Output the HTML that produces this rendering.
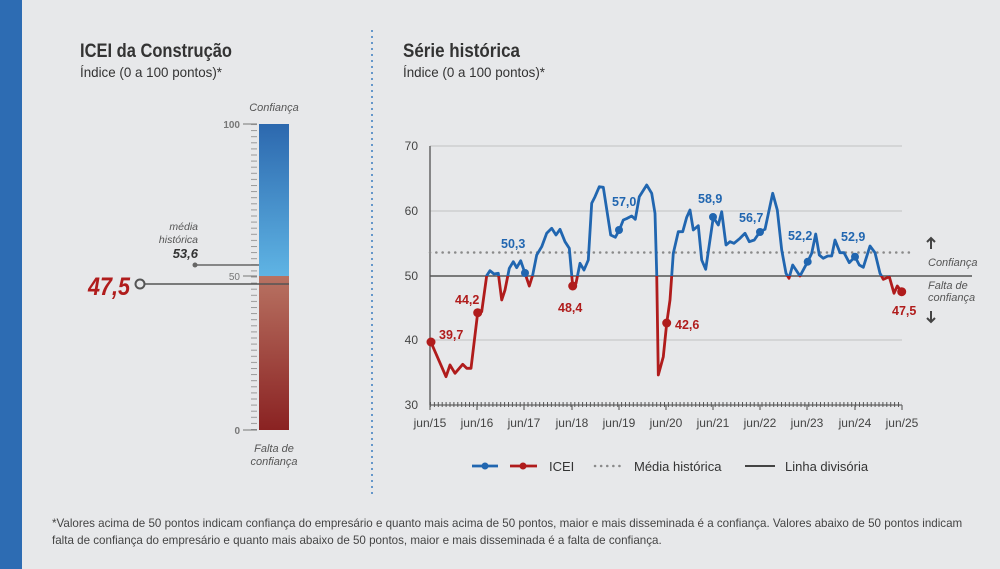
<!DOCTYPE html>
<html><head><meta charset="utf-8"><style>
body{margin:0;width:1000px;height:569px;background:#e7e8ea;font-family:"Liberation Sans",sans-serif;overflow:hidden;position:relative}
</style></head><body>
<svg width="1000" height="569" style="position:absolute;left:0;top:0" font-family="Liberation Sans, sans-serif">
<defs>
<linearGradient id="gb" x1="0" y1="0" x2="0" y2="1"><stop offset="0" stop-color="#2c68ae"/><stop offset="1" stop-color="#5fb4e4"/></linearGradient>
<linearGradient id="gr" x1="0" y1="0" x2="0" y2="1"><stop offset="0" stop-color="#b87262"/><stop offset="1" stop-color="#8a2222"/></linearGradient>
<clipPath id="ca"><rect x="0" y="0" width="1000" height="276"/></clipPath>
<clipPath id="cb"><rect x="0" y="276" width="1000" height="300"/></clipPath>
<pattern id="tk" width="3.9" height="6" patternUnits="userSpaceOnUse" x="430"><rect width="1" height="6" fill="#555"/></pattern>
<pattern id="gt" width="6" height="6.1" patternUnits="userSpaceOnUse" y="124"><rect width="6" height="1" fill="#999"/></pattern>
</defs>
<rect x="0" y="0" width="22" height="569" fill="#2d6cb3"/>
<line x1="372" y1="30" x2="372" y2="495" stroke="#3a7cc0" stroke-width="1.5" stroke-dasharray="2,4"/>
<text x="80" y="57" font-size="19" font-weight="bold" fill="#333" textLength="152" lengthAdjust="spacingAndGlyphs">ICEI da Construção</text>
<text x="80" y="77" font-size="14" fill="#333" textLength="142" lengthAdjust="spacingAndGlyphs">Índice (0 a 100 pontos)*</text>
<text x="403" y="57" font-size="19" font-weight="bold" fill="#333" textLength="117" lengthAdjust="spacingAndGlyphs">Série histórica</text>
<text x="403" y="77" font-size="14" fill="#333" textLength="142" lengthAdjust="spacingAndGlyphs">Índice (0 a 100 pontos)*</text>
<!-- gauge -->
<text x="274" y="111" font-size="11" font-style="italic" fill="#555" text-anchor="middle">Confiança</text>
<rect x="251" y="124" width="6" height="306" fill="url(#gt)"/>
<line x1="243" y1="124" x2="257" y2="124" stroke="#777"/><line x1="243" y1="276" x2="257" y2="276" stroke="#777"/><line x1="243" y1="430" x2="257" y2="430" stroke="#777"/>
<text x="240" y="128" font-size="10" fill="#777" text-anchor="end" font-weight="bold">100</text>
<text x="240" y="280" font-size="10" fill="#777" text-anchor="end">50</text>
<text x="240" y="434" font-size="10" fill="#777" text-anchor="end" font-weight="bold">0</text>
<rect x="259" y="124" width="30" height="152" fill="url(#gb)"/>
<rect x="259" y="276" width="30" height="154" fill="url(#gr)"/>
<text x="198" y="230" font-size="10.5" font-style="italic" fill="#555" text-anchor="end">média</text>
<text x="198" y="243" font-size="10.5" font-style="italic" fill="#555" text-anchor="end">histórica</text>
<text x="198" y="258" font-size="13" font-style="italic" font-weight="bold" fill="#333" text-anchor="end">53,6</text>
<line x1="195" y1="265" x2="259" y2="265" stroke="#666" stroke-width="1.5"/><circle cx="195" cy="265" r="2.5" fill="#666"/>
<line x1="144" y1="284" x2="289" y2="284" stroke="#555" stroke-width="1.5"/>
<circle cx="140" cy="284" r="4.5" fill="#e7e8ea" stroke="#555" stroke-width="2"/>
<text x="130" y="295" font-size="25" font-style="italic" font-weight="bold" fill="#b01c1c" text-anchor="end" textLength="42" lengthAdjust="spacingAndGlyphs">47,5</text>
<text x="274" y="452" font-size="11" font-style="italic" fill="#555" text-anchor="middle">Falta de</text>
<text x="274" y="465" font-size="11" font-style="italic" fill="#555" text-anchor="middle">confiança</text>
<!-- chart -->
<g stroke="#c9c9cb" stroke-width="1.2"><line x1="430" y1="146" x2="902" y2="146"/><line x1="430" y1="211" x2="902" y2="211"/><line x1="430" y1="340" x2="902" y2="340"/></g>
<line x1="430" y1="146" x2="430" y2="405" stroke="#666" stroke-width="1.5"/>
<line x1="430" y1="405" x2="902" y2="405" stroke="#666" stroke-width="1.2"/>
<rect x="430" y="402" width="472" height="5" fill="url(#tk)"/>
<g stroke="#666" stroke-width="1.2"><line x1="430" y1="405" x2="430" y2="410"/><line x1="477" y1="405" x2="477" y2="410"/><line x1="524" y1="405" x2="524" y2="410"/><line x1="572" y1="405" x2="572" y2="410"/><line x1="619" y1="405" x2="619" y2="410"/><line x1="666" y1="405" x2="666" y2="410"/><line x1="713" y1="405" x2="713" y2="410"/><line x1="760" y1="405" x2="760" y2="410"/><line x1="807" y1="405" x2="807" y2="410"/><line x1="855" y1="405" x2="855" y2="410"/><line x1="902" y1="405" x2="902" y2="410"/></g>
<g font-size="12" fill="#444" text-anchor="end"><text x="418" y="150">70</text><text x="418" y="215">60</text><text x="418" y="280">50</text><text x="418" y="344">40</text><text x="418" y="409">30</text></g>
<g font-size="12" fill="#444" text-anchor="middle"><text x="430" y="427">jun/15</text><text x="477" y="427">jun/16</text><text x="524" y="427">jun/17</text><text x="572" y="427">jun/18</text><text x="619" y="427">jun/19</text><text x="666" y="427">jun/20</text><text x="713" y="427">jun/21</text><text x="760" y="427">jun/22</text><text x="807" y="427">jun/23</text><text x="855" y="427">jun/24</text><text x="902" y="427">jun/25</text></g>
<line x1="430" y1="252.5" x2="910" y2="252.5" stroke="#8a8a8a" stroke-width="2.5" stroke-dasharray="0.1,6.2" stroke-linecap="round"/>
<line x1="430" y1="276" x2="972" y2="276" stroke="#555" stroke-width="1.5"/>
<polyline clip-path="url(#ca)" fill="none" stroke-width="2.8" stroke-linejoin="round" stroke="#2166b0" points="431,342.3 446,376.7 450,365 455,373.3 462.7,364.3 466.7,368.3 471,368.3 477.7,312.7 481.7,311.7 486.7,275.7 490,270.7 494,274 498.3,273.3 501.7,300 505,290 509.3,268.3 513.3,261.7 516.7,267.7 520.7,260.7 525,273.3 529.3,286 532.7,275 536.7,255 541.7,246.7 546.7,233.3 551.7,228.3 556,235 560,229.3 565,241.7 569.3,248.3 572.7,286 576,283.3 580,263.3 584,270 588.3,260 591.7,203.3 595,196.7 599.3,186.7 603.3,187.3 610.7,235 615.3,237.3 619.3,230 623.3,220 627.3,218.3 631.7,216 635.3,219.3 639.3,196.7 646.7,185 651.7,193.3 655,213.3 656.7,273.3 658.3,375 663.3,356.7 666.7,323.3 670,300 673.3,253.3 678.3,231.7 682.7,231.7 686.7,217.3 690,210 693.3,230 698.3,225.7 701.7,260 705.7,269.3 713.3,217.3 718.3,225 721.7,211.7 726,245 730,241.7 734,243.3 740,238.3 745,233.3 749.3,241.7 754.3,240 760,231.7 765,229.3 772.7,193.3 777.3,210 781.7,250 786,273.3 789,278.3 792.7,265 800,276 807.7,261.7 811.7,253.3 815.7,234 819.3,255 823.3,258.3 827.7,256 831.7,256 835,240 840,252.7 844,252.7 849.3,262.7 855,256.7 859.3,265 863.3,267.3 870,246 875,252.7 880,273.3 883.3,279.3 889.3,276.7 894,293.3 897.3,286 901.7,291.7"/>
<polyline clip-path="url(#cb)" fill="none" stroke="#b01c1c" stroke-width="2.8" stroke-linejoin="round" points="431,342.3 446,376.7 450,365 455,373.3 462.7,364.3 466.7,368.3 471,368.3 477.7,312.7 481.7,311.7 486.7,275.7 490,270.7 494,274 498.3,273.3 501.7,300 505,290 509.3,268.3 513.3,261.7 516.7,267.7 520.7,260.7 525,273.3 529.3,286 532.7,275 536.7,255 541.7,246.7 546.7,233.3 551.7,228.3 556,235 560,229.3 565,241.7 569.3,248.3 572.7,286 576,283.3 580,263.3 584,270 588.3,260 591.7,203.3 595,196.7 599.3,186.7 603.3,187.3 610.7,235 615.3,237.3 619.3,230 623.3,220 627.3,218.3 631.7,216 635.3,219.3 639.3,196.7 646.7,185 651.7,193.3 655,213.3 656.7,273.3 658.3,375 663.3,356.7 666.7,323.3 670,300 673.3,253.3 678.3,231.7 682.7,231.7 686.7,217.3 690,210 693.3,230 698.3,225.7 701.7,260 705.7,269.3 713.3,217.3 718.3,225 721.7,211.7 726,245 730,241.7 734,243.3 740,238.3 745,233.3 749.3,241.7 754.3,240 760,231.7 765,229.3 772.7,193.3 777.3,210 781.7,250 786,273.3 789,278.3 792.7,265 800,276 807.7,261.7 811.7,253.3 815.7,234 819.3,255 823.3,258.3 827.7,256 831.7,256 835,240 840,252.7 844,252.7 849.3,262.7 855,256.7 859.3,265 863.3,267.3 870,246 875,252.7 880,273.3 883.3,279.3 889.3,276.7 894,293.3 897.3,286 901.7,291.7"/>
<g fill="#2166b0"><circle cx="525" cy="273" r="4"/><circle cx="619" cy="230" r="4"/><circle cx="713" cy="217" r="4"/><circle cx="760" cy="232" r="4"/><circle cx="807.7" cy="261.7" r="4"/><circle cx="855" cy="256.7" r="4"/></g>
<g fill="#b01c1c"><circle cx="431" cy="342" r="4.5"/><circle cx="477.7" cy="312.7" r="4.5"/><circle cx="572.7" cy="286" r="4.5"/><circle cx="666.7" cy="323" r="4.5"/><circle cx="901.7" cy="291.7" r="4.5"/></g>
<g font-size="12.5" font-weight="bold" fill="#2166b0"><text x="501" y="248">50,3</text><text x="612" y="206">57,0</text><text x="698" y="203">58,9</text><text x="739" y="222">56,7</text><text x="788" y="240">52,2</text><text x="841" y="241">52,9</text></g>
<g font-size="12.5" font-weight="bold" fill="#b01c1c"><text x="439" y="339">39,7</text><text x="455" y="304">44,2</text><text x="558" y="312">48,4</text><text x="675" y="329">42,6</text><text x="892" y="315">47,5</text></g>
<g stroke="#444" stroke-width="2" fill="none"><path d="M931 249V238M927 242L931 238L935 242"/><path d="M931 311V322M927 318L931 322L935 318"/></g>
<g font-size="11" font-style="italic" fill="#555"><text x="928" y="266">Confiança</text><text x="928" y="289">Falta de</text><text x="928" y="301">confiança</text></g>
<!-- legend -->
<line x1="472" y1="466" x2="498" y2="466" stroke="#2166b0" stroke-width="2.8"/><circle cx="485" cy="466" r="3.5" fill="#2166b0"/>
<line x1="510" y1="466" x2="537" y2="466" stroke="#b01c1c" stroke-width="2.8"/><circle cx="523" cy="466" r="3.5" fill="#b01c1c"/>
<text x="549" y="471" font-size="13" fill="#333">ICEI</text>
<line x1="595" y1="466" x2="625" y2="466" stroke="#8a8a8a" stroke-width="2.5" stroke-dasharray="0.1,6" stroke-linecap="round"/>
<text x="634" y="471" font-size="13" fill="#333">Média histórica</text>
<line x1="745" y1="466" x2="775" y2="466" stroke="#444" stroke-width="2"/>
<text x="785" y="471" font-size="13" fill="#333">Linha divisória</text>
<text x="52" y="527" font-size="11.6" fill="#444">*Valores acima de 50 pontos indicam confiança do empresário e quanto mais acima de 50 pontos, maior e mais disseminada é a confiança. Valores abaixo de 50 pontos indicam</text>
<text x="52" y="544" font-size="11.6" fill="#444">falta de confiança do empresário e quanto mais abaixo de 50 pontos, maior e mais disseminada é a falta de confiança.</text>
</svg>
</body></html>
